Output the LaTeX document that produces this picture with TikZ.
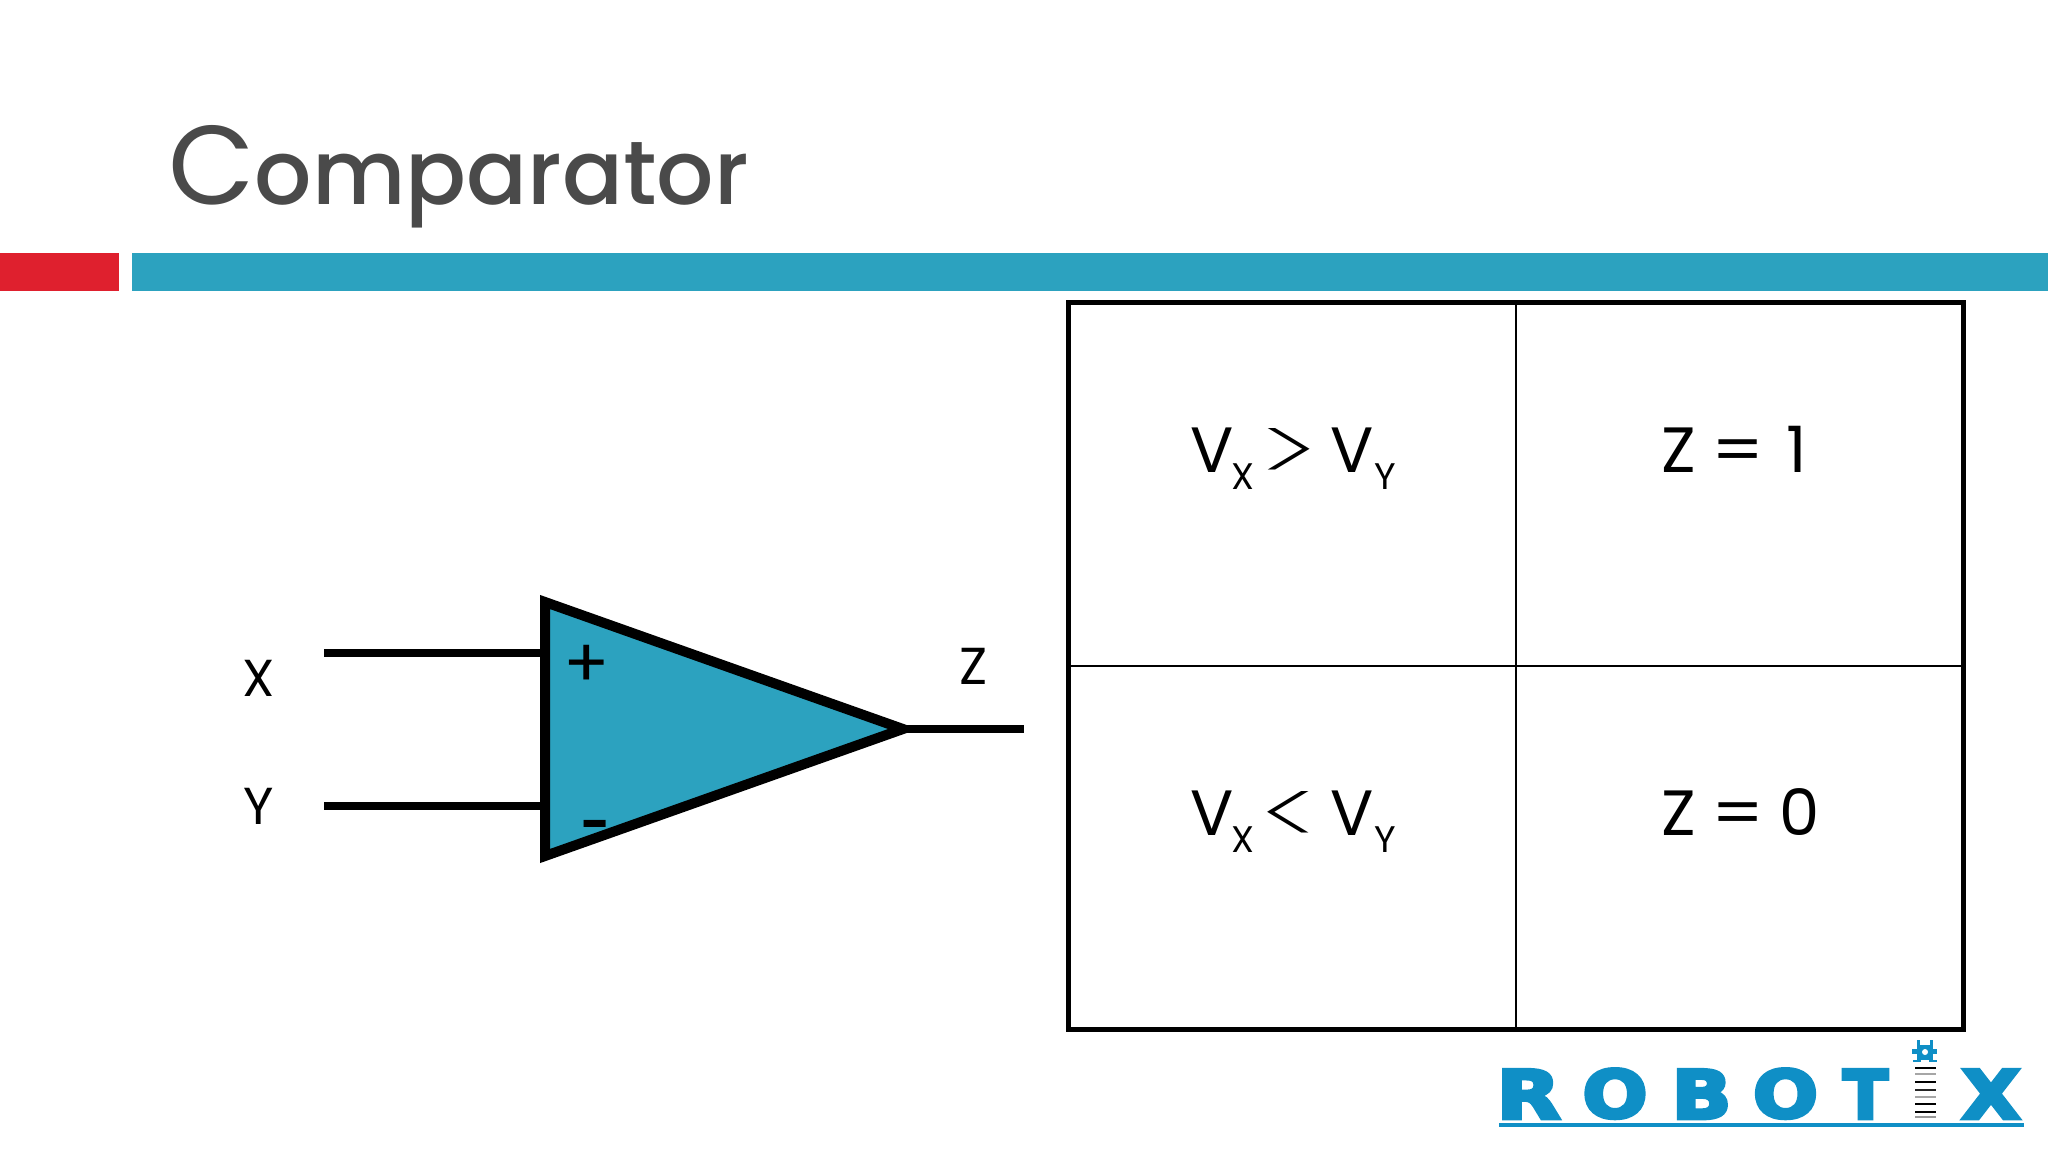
\documentclass[tikz,border=0pt]{standalone}
\usepackage{fontspec}
\setmainfont{Poppins}
\newfontfamily\titlefont{Poppins Medium}
\newfontfamily\signfont{Poppins ExtraLight}
\newfontfamily\logofont[FakeBold=5]{DejaVu Sans Bold}
\definecolor{teal}{HTML}{2CA2BF}
\definecolor{barred}{HTML}{DF202E}
\definecolor{titlegray}{HTML}{4A4A4A}
\definecolor{logoblue}{HTML}{0F8FC6}
\newcommand{\logoletter}[3]{\resizebox{#1}{#2}{\logofont #3}}
\tikzset{
  lbl/.style={inner sep=0pt,font=\fontsize{26}{26}\selectfont,text=black},
  cell/.style={inner sep=0pt,anchor=base,font=\fontsize{32}{32}\selectfont,text=black},
  subs/.style={inner sep=0pt,anchor=base,font=\fontsize{18.5}{18.5}\selectfont,text=black},
  cmp/.style={inner sep=0pt,font=\signfont\fontsize{32}{32}\selectfont,text=black},
  wire/.style={line width=4.25pt,black},
  logol/.style={inner sep=0pt,anchor=south,text=logoblue},
  barc/.style={line width=1pt,black},
}
\begin{document}
\begin{tikzpicture}[x=0.5pt,y=-0.5pt]
\useasboundingbox (0,0) rectangle (2048,1152);
% bars
\fill[barred] (0,253) rectangle (119,291);
\fill[teal] (132,253) rectangle (2048,291);
% title
\node[inner sep=0pt,anchor=base west,text=titlegray,font=\titlefont\fontsize{45}{45}\selectfont] (title) at (168,204) {{\rmfamily\fontsize{56}{56}\selectfont C}omparator};
% table
\coordinate (tl) at (1068,302);
\coordinate (tr) at (1963,302);
\coordinate (bl) at (1068,1029);
\coordinate (br) at (1963,1029);
\coordinate (tm) at (1516,302);
\coordinate (bm) at (1516,1029);
\coordinate (ml) at (1068,666);
\coordinate (mr) at (1963,666);
\draw[line width=1.25pt] (tm) -- (bm);
\draw[line width=1.25pt] (ml) -- (mr);
\draw[line width=2.5pt,line join=miter] (tl) -- (tr) -- (br) -- (bl) -- cycle;
% table text
\node[cell] (v1) at (1212,472) {V};
\node[subs] (x1) at (1243,489) {X};
\node[cmp] (g1) at (1289,455) {\resizebox{28.5pt}{27pt}{>}};
\node[cell] (w1) at (1352,472) {V};
\node[subs] (y1) at (1385,489) {Y};
\node[cell] (z1) at (1679,472) {Z};
\node[cell] (e1) at (1738,472) {\scalebox{1.15}[1]{=}};
\node[cell] (n1) at (1797,472) {1};
\node[cell] (v2) at (1212,835) {V};
\node[subs] (x2) at (1243,852) {X};
\node[cmp] (g2) at (1289,818) {\resizebox{28.5pt}{27pt}{<}};
\node[cell] (w2) at (1352,835) {V};
\node[subs] (y2) at (1385,852) {Y};
\node[cell] (z2) at (1679,835) {Z};
\node[cell] (e2) at (1738,835) {\scalebox{1.15}[1]{=}};
\node[cell] (n2) at (1800,835) {0};
% comparator
\coordinate (ta) at (545,602);
\coordinate (tb) at (545,856);
\coordinate (tc) at (903,729);
\coordinate (xa) at (324,653);
\coordinate (xb) at (545,653);
\coordinate (ya) at (324,806);
\coordinate (yb) at (545,806);
\coordinate (zb) at (1024,729);
\draw[wire] (xa) -- (xb);
\draw[wire] (ya) -- (yb);
\draw[wire] (tc) -- (zb);
\draw[fill=teal,line width=5pt,line join=miter] (ta) -- (tc) -- (tb) -- cycle;
\node[inner sep=0pt,font=\fontsize{34}{34}\selectfont] (plus) at (587,666) {+};
\node[inner sep=0pt,font=\fontsize{25}{25}\bfseries\selectfont] (minus) at (596,831) {-};
\node[lbl] (xl) at (259,678) {X};
\node[lbl] (yl) at (259,806) {Y};
\node[lbl] (zl) at (974,666) {Z};
% logo
\node[logol] (lr) at (1528.5,1119) {\logoletter{32pt}{24.5pt}{R}};
\node[logol] (lo) at (1615,1119) {\logoletter{32.5pt}{24.5pt}{O}};
\node[logol] (lb) at (1701.5,1119) {\logoletter{30pt}{24.5pt}{B}};
\node[logol] (lp) at (1785.5,1119) {\logoletter{32.5pt}{24.5pt}{O}};
\node[logol] (lt) at (1865.5,1119) {\logoletter{22.5pt}{24.5pt}{T}};
\node[logol] (lx) at (1991,1119) {\logoletter{29.5pt}{24.5pt}{X}};
\coordinate (ua) at (1499,1125);
\coordinate (ub) at (2024,1125);
\draw[logoblue,line width=1.6pt] (ua) -- (ub);
% barcode
\foreach \yy/\cc in {1068/black,1074/gray!70,1082/black,1090/black!85,1097/gray!70,1104/black,1112/black,1117/gray!80}{
  \draw[barc,draw=\cc] (1915,\yy) -- (1936,\yy);
}
% robot
\fill[logoblue] (1917,1045) rectangle (1933,1060);
\fill[logoblue] (1912,1049) rectangle (1937,1054);
\fill[logoblue] (1917,1040) rectangle (1920,1046);
\fill[logoblue] (1930,1040) rectangle (1933,1046);
\fill[logoblue] (1913,1060) rectangle (1921,1062);
\fill[logoblue] (1929,1060) rectangle (1937,1062);
\fill[white] (1925,1052) circle (3);
\end{tikzpicture}
\end{document}
